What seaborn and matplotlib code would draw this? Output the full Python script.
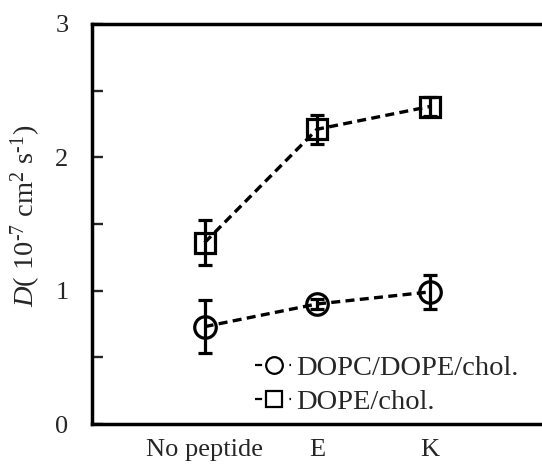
import matplotlib
matplotlib.use("Agg")
import matplotlib.pyplot as plt
import seaborn as sns
import pandas as pd
import numpy as np
from matplotlib.lines import Line2D
from matplotlib.ticker import MultipleLocator

categories = ["No peptide", "E", "K"]
series_names = ["DOPC/DOPE/chol.", "DOPE/chol."]
dopc_vals = [0.73, 0.90, 0.99]
dopc_err = [0.20, 0.04, 0.13]
dope_vals = [1.36, 2.21, 2.38]
dope_err = [0.17, 0.11, 0.07]
y_ticks = [0, 1, 2, 3]

sns.set_theme(style="white")
plt.rcParams["font.family"] = ["Liberation Serif", "DejaVu Serif"]
plt.rcParams["mathtext.fontset"] = "custom"
plt.rcParams["mathtext.rm"] = "Liberation Serif"
plt.rcParams["mathtext.it"] = "Liberation Serif:italic"

xpos = np.arange(1, len(categories) + 1)
df = pd.DataFrame({
    "x": np.concatenate([xpos, xpos]),
    "D": dopc_vals + dope_vals,
    "err": dopc_err + dope_err,
    "series": [series_names[0]] * 3 + [series_names[1]] * 3,
})

fig = plt.figure(figsize=(5.42, 4.68), dpi=100)
ax = fig.add_axes([0.170, 0.094, 0.830, 0.855])

LW = 2.4
DASH = (0, (2.7, 1.6))
markers = {series_names[0]: "o", series_names[1]: "s"}
msizes = {series_names[0]: 15.5, series_names[1]: 14.5}
for name in series_names:
    sub = df[df["series"] == name]
    sns.lineplot(data=sub, x="x", y="D", ax=ax, color="black",
                 linestyle=DASH, linewidth=LW, legend=False)
    ax.errorbar(sub["x"], sub["D"], yerr=sub["err"], fmt="none",
                ecolor="black", elinewidth=2.3, capsize=5, capthick=2.3, zorder=3)
    ax.plot(sub["x"], sub["D"], linestyle="none", marker=markers[name],
            markersize=msizes[name], markerfacecolor="none", markeredgecolor="black",
            markeredgewidth=2.3, zorder=4)

ax.set_xlim(0, 4)
ax.set_ylim(0, 3)
ax.set_xticks(xpos)
ax.set_xticklabels(categories, fontsize=19)
ax.set_yticks(y_ticks)
ax.set_yticklabels([str(t) for t in y_ticks], fontsize=19)
ax.yaxis.set_minor_locator(MultipleLocator(0.5))
ax.tick_params(axis="y", which="major", direction="in", length=8, width=1.7, pad=17, left=True)
ax.tick_params(axis="y", which="minor", direction="in", length=8, width=1.7, left=True)
ax.tick_params(axis="x", length=0, pad=11)
ax.set_xlabel("")
ax.set_ylabel(r"$\mathit{D}$( 10$^{\text{-}7}$ cm$^{2}$ s$^{\text{-}1}$)", fontsize=20.5)
ax.yaxis.set_label_coords(-0.109, 0.52)

for s in ["top", "left", "bottom"]:
    ax.spines[s].set_visible(True)
    ax.spines[s].set_color("black")
    ax.spines[s].set_linewidth(2.5)
ax.spines["right"].set_visible(False)

handles = [
    Line2D([0], [0], color="black", linestyle=(0, (3.2, 12.3, 0.7, 20)), linewidth=1.6,
           marker=markers[n], markersize=12, markerfacecolor="none",
           markeredgecolor="black", markeredgewidth=1.6)
    for n in series_names
]
ax.legend(handles, series_names, loc="upper left", bbox_to_anchor=(0.362, 0.1725),
          frameon=False, fontsize=20.5, handlelength=1.35, handletextpad=0.08,
          labelspacing=0.3, borderaxespad=0, borderpad=0)

fig.savefig("out.png", dpi=100)
